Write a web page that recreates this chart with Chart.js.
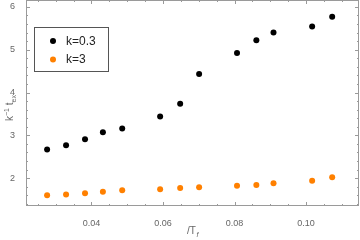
<!DOCTYPE html>
<html lang="en">

<head>
    <meta charset="UTF-8">
    <title>k^-1 t_ex vs 1/T_f</title>
    <style>
        body {
            margin: 0;
            background-color: #fff;
        }

        .container {
            width: 360px;
            height: 240px;
        }
    </style>
    <script src="https://cdn.jsdelivr.net/npm/chart.js"></script>
</head>

<body>
    <div class="container">
        <canvas id="myChart"></canvas>
    </div>
    <script>
        // data
        const invTf = [0.0276, 0.0329, 0.0382, 0.0432, 0.0486, 0.0592, 0.0648, 0.0701, 0.0807, 0.0861, 0.0909, 0.1017, 0.1073];
        const kSmall = [2.67, 2.77, 2.91, 3.07, 3.16, 3.44, 3.74, 4.43, 4.92, 5.22, 5.40, 5.54, 5.77];
        const kLarge = [1.60, 1.62, 1.65, 1.68, 1.72, 1.74, 1.77, 1.79, 1.82, 1.84, 1.88, 1.94, 2.02];
        const seriesLabels = ['k=0.3', 'k=3'];
        const seriesColors = ['#000000', '#ff8000'];

        const xTicks = [0.04, 0.06, 0.08, 0.10];
        const yTicks = [2, 3, 4, 5, 6];
        const xMinorStep = 0.005;
        const yMinorStep = 0.2;

        function points(ys) {
            return invTf.map((x, i) => ({ x: x, y: ys[i] }));
        }

        // frame with inward ticks on all four sides, Mathematica style
        const framePlugin = {
            id: 'frame',
            afterDatasetsDraw(chart) {
                const ctx = chart.ctx;
                const area = chart.chartArea;
                const xs = chart.scales.x;
                const ys = chart.scales.y;
                ctx.save();
                ctx.strokeStyle = '#9a9a9a';
                ctx.lineWidth = 1;
                ctx.strokeRect(area.left + 0.5, area.top + 0.5, area.right - area.left - 1, area.bottom - area.top - 1);

                ctx.beginPath();
                for (let v = Math.ceil(xs.min / xMinorStep) * xMinorStep; v <= xs.max; v += xMinorStep) {
                    const major = xTicks.some(t => Math.abs(t - v) < 1e-6);
                    const len = major ? 4 : 2;
                    const px = Math.round(xs.getPixelForValue(v)) + 0.5;
                    ctx.moveTo(px, area.bottom);
                    ctx.lineTo(px, area.bottom - len);
                    ctx.moveTo(px, area.top);
                    ctx.lineTo(px, area.top + len);
                }
                for (let v = Math.ceil(ys.min / yMinorStep) * yMinorStep; v <= ys.max; v += yMinorStep) {
                    const major = yTicks.some(t => Math.abs(t - v) < 1e-6);
                    const len = major ? 4 : 2;
                    const py = Math.round(ys.getPixelForValue(v)) + 0.5;
                    ctx.moveTo(area.left, py);
                    ctx.lineTo(area.left + len, py);
                    ctx.moveTo(area.right, py);
                    ctx.lineTo(area.right - len, py);
                }
                ctx.stroke();
                ctx.restore();
            },
            afterDraw(chart) {
                const ctx = chart.ctx;
                const area = chart.chartArea;
                ctx.save();
                ctx.fillStyle = '#666';
                ctx.textBaseline = 'alphabetic';

                // x title: 1/T_f (shown as "/T" with subscript f)
                const cx = (area.left + area.right) / 2;
                ctx.font = '10px "Liberation Sans", Arial, sans-serif';
                const main = '/T';
                const w1 = ctx.measureText(main).width;
                ctx.font = 'italic 7px "Liberation Sans", Arial, sans-serif';
                const w2 = ctx.measureText('f').width;
                let x0 = cx - (w1 + w2) / 2;
                ctx.font = '10px "Liberation Sans", Arial, sans-serif';
                ctx.fillText(main, x0, 234);
                ctx.font = 'italic 7px "Liberation Sans", Arial, sans-serif';
                ctx.fillText('f', x0 + w1 + 0.5, 237);

                // y title: k^-1 t_ex, rotated
                ctx.translate(13, (area.top + area.bottom) / 2 + 5);
                ctx.rotate(-Math.PI / 2);
                const parts = [
                    { t: 'k', f: '10px', dy: 0 },
                    { t: '\u22121', f: '7px', dy: -4 },
                    { t: ' t', f: '10px', dy: 0 },
                    { t: 'ex', f: '7px', dy: 3 }
                ];
                let total = 0;
                parts.forEach(p => {
                    ctx.font = p.f + ' "Liberation Sans", Arial, sans-serif';
                    total += ctx.measureText(p.t).width;
                });
                let px = -total / 2;
                parts.forEach(p => {
                    ctx.font = p.f + ' "Liberation Sans", Arial, sans-serif';
                    ctx.fillText(p.t, px, p.dy);
                    px += ctx.measureText(p.t).width;
                });
                ctx.restore();

                // legend box inside the plot
                ctx.save();
                ctx.fillStyle = '#fff';
                ctx.fillRect(34.5, 27.5, 74, 44);
                ctx.strokeStyle = '#555';
                ctx.lineWidth = 1;
                ctx.strokeRect(34.5, 27.5, 74, 44);
                chart.data.datasets.forEach((ds, i) => {
                    const ly = 41 + i * 18.5;
                    ctx.fillStyle = ds.backgroundColor;
                    ctx.beginPath();
                    ctx.arc(53, ly, 3, 0, Math.PI * 2);
                    ctx.fill();
                    ctx.fillStyle = '#222';
                    ctx.font = '12px "Liberation Sans", Arial, sans-serif';
                    ctx.textBaseline = 'middle';
                    ctx.fillText(ds.label, 66, ly + 0.5);
                });
                ctx.restore();
            }
        };

        const ctx = document.getElementById('myChart').getContext('2d');
        const myChart = new Chart(ctx, {
            type: 'scatter',
            data: {
                datasets: [{
                    label: seriesLabels[0],
                    data: points(kSmall),
                    backgroundColor: seriesColors[0],
                    borderColor: seriesColors[0],
                    pointRadius: 3,
                    borderWidth: 0
                }, {
                    label: seriesLabels[1],
                    data: points(kLarge),
                    backgroundColor: seriesColors[1],
                    borderColor: seriesColors[1],
                    pointRadius: 3,
                    borderWidth: 0
                }]
            },
            options: {
                responsive: true,
                maintainAspectRatio: false,
                animation: false,
                layout: {
                    autoPadding: false,
                    padding: { top: 0, right: 1, left: 0, bottom: 0 }
                },
                scales: {
                    x: {
                        type: 'linear',
                        min: 0.0217,
                        max: 0.1148,
                        afterBuildTicks: scale => {
                            scale.ticks = xTicks.map(v => ({ value: v }));
                        },
                        afterFit: scale => {
                            scale.height = 34;
                            scale.paddingLeft = 0;
                            scale.paddingRight = 0;
                        },
                        grid: { display: false },
                        border: { display: false },
                        ticks: {
                            color: '#666',
                            font: { family: '"Liberation Sans", Arial, sans-serif', size: 9 },
                            padding: 4,
                            maxRotation: 0,
                            callback: v => v.toFixed(2)
                        }
                    },
                    y: {
                        min: 1.35,
                        max: 6.16,
                        afterBuildTicks: scale => {
                            scale.ticks = yTicks.map(v => ({ value: v }));
                        },
                        afterFit: scale => {
                            scale.width = 26;
                            scale.paddingTop = 0;
                            scale.paddingBottom = 0;
                        },
                        grid: { display: false },
                        border: { display: false },
                        ticks: {
                            color: '#666',
                            font: { family: '"Liberation Sans", Arial, sans-serif', size: 9 },
                            padding: 3,
                            callback: v => String(v)
                        }
                    }
                },
                plugins: {
                    legend: { display: false },
                    tooltip: { enabled: false }
                }
            },
            plugins: [framePlugin]
        });
    </script>
</body>

</html>
